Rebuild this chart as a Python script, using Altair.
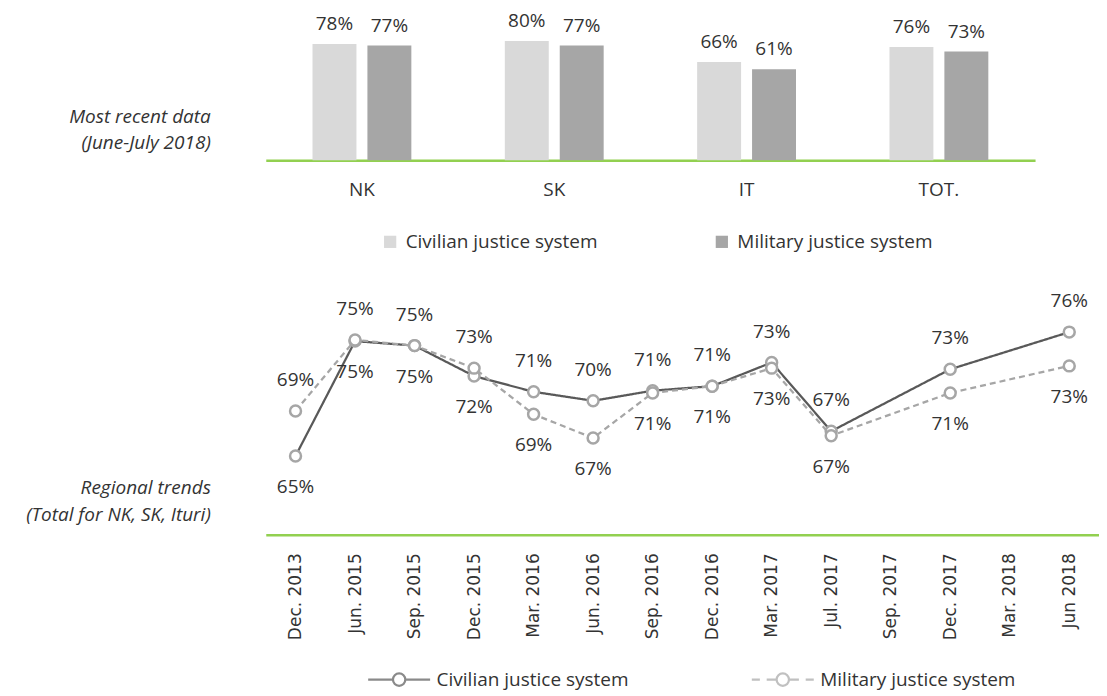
import altair as alt
import pandas as pd

# ---------------- data ----------------
regions = ["NK", "SK", "IT", "TOT."]
civ_recent = [78, 80, 66, 76]
mil_recent = [77, 77, 61, 73]

periods = ["Dec. 2013", "Jun. 2015", "Sep. 2015", "Dec. 2015", "Mar. 2016",
           "Jun. 2016", "Sep. 2016", "Dec. 2016", "Mar. 2017", "Jul. 2017",
           "Sep. 2017", "Dec. 2017", "Mar. 2018", "Jun 2018"]
civ_trend = [65.0, 75.2, 74.8, 72.1, 70.7, 69.9, 70.8, 71.2, 73.3, 67.2, None, 72.7, None, 76.0]
mil_trend = [69.0, 75.3, 74.8, 72.8, 68.7, 66.6, 70.6, 71.2, 72.8, 66.8, None, 70.6, None, 73.0]

series = ["Civilian justice system", "Military justice system"]
top_note = "Most recent data\n(June-July 2018)"
bottom_note = "Regional trends\n(Total for NK, SK, Ituri)"

# ---------------- style ----------------
FONT = "Open Sans"
TEXT = "#333333"
GREEN = "#92d050"
BAR_COLORS = ["#d9d9d9", "#a6a6a6"]
LINE_COLORS = ["#595959", "#a6a6a6"]
POINT_STROKE = "#a6a6a6"
FS = 19
NOTE_SIZE = 19
# legend symbols: line with a hollow circle (solid / dashed)
CIV_SYMBOL = "M-1,0H-0.2M0.2,0H1M-0.2,0A0.2,0.2,0,1,1,0.2,0A0.2,0.2,0,1,1,-0.2,0"
MIL_SYMBOL = ("M-1,0H-0.74M-0.52,0H-0.2M0.2,0H0.52M0.74,0H1"
              "M-0.2,0A0.2,0.2,0,1,1,0.2,0A0.2,0.2,0,1,1,-0.2,0")

# ---------------- tables ----------------
bar_rows = []
for r, c, m in zip(regions, civ_recent, mil_recent):
    bar_rows.append({"region": r, "series": series[0], "value": c, "label": f"{c}%"})
    bar_rows.append({"region": r, "series": series[1], "value": m, "label": f"{m}%"})
bars_df = pd.DataFrame(bar_rows)

line_rows = []
for p, c, m in zip(periods, civ_trend, mil_trend):
    if c is None or m is None:
        continue
    civ_pos = "above" if c >= m else "below"
    mil_pos = "below" if c >= m else "above"
    line_rows.append({"period": p, "series": series[0], "value": c,
                      "label": f"{int(c + 0.5)}%", "pos": civ_pos})
    line_rows.append({"period": p, "series": series[1], "value": m,
                      "label": f"{int(m + 0.5)}%", "pos": mil_pos})
lines_df = pd.DataFrame(line_rows)

# ---------------- top: bars ----------------
TOP_W, TOP_H = 770, 149
x_top = alt.X("region:N", sort=regions,
              scale=alt.Scale(paddingInner=0.486, paddingOuter=0.243),
              axis=alt.Axis(title=None, labelAngle=0, domainColor=GREEN, domainWidth=2.5,
                            ticks=False, grid=False, labelFontSize=FS, labelFont=FONT,
                            labelColor=TEXT, labelPadding=20))
xoff = alt.XOffset("series:N", sort=series,
                   scale=alt.Scale(domain=series, paddingInner=0.2, paddingOuter=0))
y_top = alt.Y("value:Q", scale=alt.Scale(domain=[0, 100]), axis=None)

bar_legend = alt.Legend(orient="none", legendX=115, legendY=221, direction="horizontal",
                        title=None, symbolType="square", symbolSize=150,
                        symbolStrokeWidth=0, labelFontSize=FS, labelFont=FONT,
                        labelColor=TEXT, labelOffset=6, columnPadding=114, labelLimit=400)

bars = alt.Chart(bars_df).mark_bar().encode(
    x=x_top, xOffset=xoff, y=y_top,
    color=alt.Color("series:N", sort=series,
                    scale=alt.Scale(domain=series, range=BAR_COLORS), legend=bar_legend),
)
bar_labels = alt.Chart(bars_df).mark_text(
    baseline="alphabetic", dy=-14, fontSize=FS, font=FONT, color=TEXT
).encode(x=x_top, xOffset=xoff, y=y_top, text="label:N")

top_note_layer = alt.Chart(pd.DataFrame({"note": [top_note]})).mark_text(
    align="right", baseline="middle", fontSize=NOTE_SIZE, font=FONT, fontStyle="italic",
    color=TEXT, lineBreak="\n", lineHeight=26
).encode(x=alt.value(-55), y=alt.value(106), text="note:N")

top = alt.layer(bars, bar_labels, top_note_layer).properties(width=TOP_W, height=TOP_H)

# ---------------- bottom: lines ----------------
BOT_W, BOT_H = 834, 248
x_bot = alt.X("period:N", scale=alt.Scale(domain=periods),
              axis=alt.Axis(title=None, labelAngle=-90, domainColor=GREEN, domainWidth=2.5,
                            ticks=False, grid=False, labelFontSize=17, labelFont="DejaVu Sans",
                            labelColor=TEXT, labelPadding=18))
y_bot = alt.Y("value:Q", scale=alt.Scale(domain=[58, 80]), axis=None)

SYM_W = 62
line_legend = alt.Legend(orient="none", legendX=101, legendY=360, direction="horizontal",
                         title=None, symbolSize=SYM_W ** 2, symbolStrokeWidth=2.25,
                         symbolFillColor="white", labelFontSize=FS, labelFont=FONT,
                         labelColor=TEXT, labelOffset=5, columnPadding=118, labelLimit=400)
color_bot = alt.Color("series:N", sort=series,
                      scale=alt.Scale(domain=series, range=LINE_COLORS), legend=line_legend)

lines = alt.Chart(lines_df).mark_line(strokeWidth=2.25).encode(
    x=x_bot, y=y_bot, color=color_bot,
    strokeDash=alt.StrokeDash("series:N", sort=series,
                              scale=alt.Scale(domain=series, range=[[1, 0], [6, 4]]),
                              legend=None),
)
# legend carrier: draws nothing, only gives the legend its line-and-circle symbols
legend_carrier = alt.Chart(lines_df).transform_filter("false").mark_point(filled=False).encode(
    x=x_bot, y=y_bot, color=color_bot,
    shape=alt.Shape("series:N", sort=series,
                    scale=alt.Scale(domain=series, range=[CIV_SYMBOL, MIL_SYMBOL]),
                    legend=line_legend),
)
points = alt.Chart(lines_df).mark_point(
    filled=True, fill="white", stroke=POINT_STROKE, strokeWidth=2.5, size=120, opacity=1
).encode(x=x_bot, y=y_bot)
labels_above = alt.Chart(lines_df).transform_filter(alt.datum.pos == "above").mark_text(
    baseline="middle", dy=-31, fontSize=FS, font=FONT, color=TEXT
).encode(x=x_bot, y=y_bot, text="label:N")
labels_below = alt.Chart(lines_df).transform_filter(alt.datum.pos == "below").mark_text(
    baseline="middle", dy=31, fontSize=FS, font=FONT, color=TEXT
).encode(x=x_bot, y=y_bot, text="label:N")

bottom_note_layer = alt.Chart(pd.DataFrame({"note": [bottom_note]})).mark_text(
    align="right", baseline="middle", fontSize=NOTE_SIZE, font=FONT, fontStyle="italic",
    color=TEXT, lineBreak="\n", lineHeight=27
).encode(x=alt.value(-55), y=alt.value(201), text="note:N")

bottom = alt.layer(lines, legend_carrier, points, labels_above, labels_below,
                   bottom_note_layer).properties(width=BOT_W, height=BOT_H)

chart = alt.vconcat(top, bottom, spacing=35).resolve_scale(
    color="independent", x="independent", y="independent", shape="independent"
).properties(
    padding={"left": 18, "top": 3, "right": 0, "bottom": 0}
).configure(font=FONT).configure_view(stroke=None)

chart.save("out.html", embed_options={"renderer": "svg", "actions": False})
